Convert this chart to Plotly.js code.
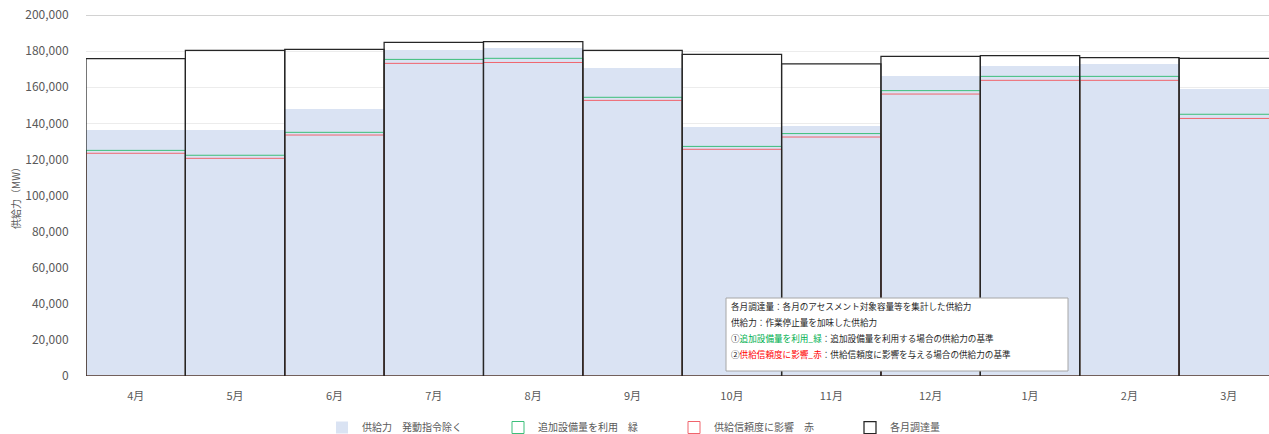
<!DOCTYPE html>
<html>
<head>
<meta charset="utf-8">
<script src="https://cdn.plot.ly/plotly-3.0.1.min.js"></script>
<style>html,body{margin:0;padding:0;background:#fff;}#chart{width:1269px;height:434px;}</style>
</head>
<body>
<div id="chart"></div>
<script>
const months = ["4月","5月","6月","7月","8月","9月","10月","11月","12月","1月","2月","3月"];
const supply = [136100,136300,148100,180600,181900,170800,138100,138500,166400,171700,172700,159000];
const greenBase = [125000,122300,135000,175400,176000,154400,127200,134300,158100,166000,166000,145000];
const redBase = [123400,120600,133500,173200,173700,152700,125600,132400,156200,163800,163800,142700];
const procured = [175800,180400,181000,184800,185200,180400,178200,172900,177100,177500,176400,176000];
const yTicks = [0,20000,40000,60000,80000,100000,120000,140000,160000,180000,200000];
const seriesNames = ["供給力　発動指令除く","追加設備量を利用　緑","供給信頼度に影響　赤","各月調達量"];
const noteLines = [
  "各月調達量：各月のアセスメント対象容量等を集計した供給力",
  "供給力：作業停止量を加味した供給力",
  "①<span style=\"color:#00b050\">追加設備量を利用_緑</span>：追加設備量を利用する場合の供給力の基準",
  "②<span style=\"color:#ff0000\">供給信頼度に影響_赤</span>：供給信頼度に影響を与える場合の供給力の基準"
];

const FONT = "'Noto Sans CJK JP', 'Noto Sans', sans-serif";
const traces = [
  {type:"bar", x:months, y:supply, name:seriesNames[0],
   marker:{color:"#dae3f3", line:{width:0}}},
  {type:"bar", x:months, y:greenBase, name:seriesNames[1],
   marker:{color:"rgba(0,0,0,0)", line:{color:"#3cbf7a", width:1}}},
  {type:"bar", x:months, y:redBase, name:seriesNames[2],
   marker:{color:"rgba(0,0,0,0)", line:{color:"#f0646c", width:1}}},
  {type:"bar", x:months, y:procured, name:seriesNames[3],
   marker:{color:"rgba(0,0,0,0)", line:{color:"#262626", width:1.25}}}
];

const annotations = noteLines.map((t,i)=>({
  xref:"paper", yref:"paper", x:(729-86)/1183, y:(376-(306+16*i))/361,
  xanchor:"left", yanchor:"middle", showarrow:false, align:"left",
  text:t, font:{family:FONT, size:8.6, color:"#262626"}
}));

const layout = {
  width:1269, height:434,
  margin:{l:86, r:0, t:15, b:58, autoexpand:false},
  paper_bgcolor:"#fff", plot_bgcolor:"#fff",
  barmode:"overlay", bargap:0,
  font:{family:FONT, color:"#595959"},
  xaxis:{type:"category", range:[-0.5, 11.405], showgrid:false, zeroline:false,
         showline:false, ticks:"outside", ticklen:10, tickcolor:"rgba(0,0,0,0)",
         tickfont:{size:11, color:"#595959"}, fixedrange:true},
  yaxis:{range:[0,200000], tickvals:yTicks, tickformat:",d", showgrid:true,
         gridcolor:"#ececec", gridwidth:1, zeroline:false, showline:false,
         ticks:"outside", ticklen:14, tickcolor:"rgba(0,0,0,0)",
         tickfont:{size:12, color:"#595959"},
         title:{text:"供給力（MW）", font:{size:10, color:"#595959"}, standoff:2}},
  showlegend:true,
  legend:{orientation:"h", x:(322-86)/1183, xanchor:"left", y:-66/361, yanchor:"bottom",
          entrywidth:131, entrywidthmode:"pixels", traceorder:"normal",
          font:{size:10, color:"#595959"}, itemclick:false},
  shapes:[
    {type:"line", xref:"paper", yref:"y", x0:0, x1:1, y0:200000, y1:200000,
     line:{color:"#a6a6a6", width:1}},
    {type:"rect", xref:"paper", yref:"paper", x0:(726-86)/1183, x1:(1068-86)/1183,
     y0:(376-371)/361, y1:(376-298)/361, fillcolor:"#ffffff",
     line:{color:"#a6a6a6", width:1}, layer:"above"}
  ],
  annotations:annotations
};
Plotly.newPlot("chart", traces, layout, {displayModeBar:false, staticPlot:true});
</script>
</body>
</html>
